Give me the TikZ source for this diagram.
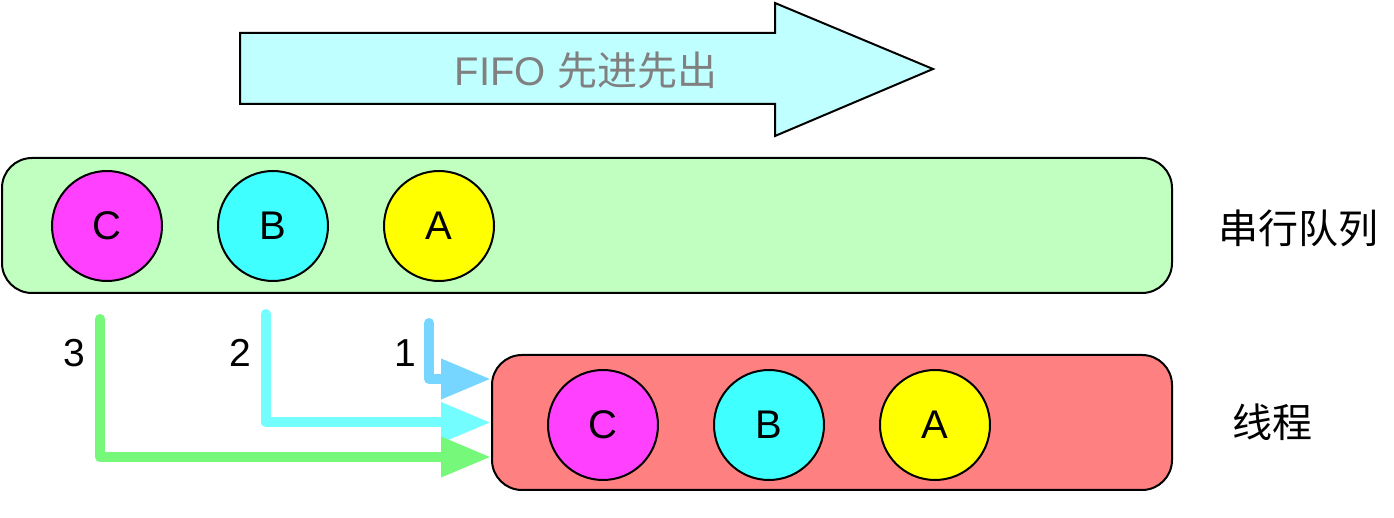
\documentclass[tikz,border=0pt]{standalone}
\usepackage{fontspec}
\setmainfont{Liberation Sans}
\newfontfamily\cjk{Noto Sans CJK SC}
\usetikzlibrary{arrows.meta,positioning}
\definecolor{fifocyan}{HTML}{C0FFFF}
\definecolor{queuegreen}{HTML}{C0FFC0}
\definecolor{threadred}{HTML}{FF8080}
\definecolor{taskC}{HTML}{FF40FF}
\definecolor{taskB}{HTML}{40FFFF}
\definecolor{taskA}{HTML}{FFFF00}
\definecolor{flowone}{HTML}{76D6FF}
\definecolor{flowtwo}{HTML}{73FDFF}
\definecolor{flowthree}{HTML}{76F97B}

\begin{document}
\begin{tikzpicture}[
		x=0.5pt, y=-0.5pt,
		line width=1pt,
		node distance=27pt,
		lane/.style={draw, rounded corners=15pt, minimum height=67.5pt, inner sep=0pt},
		task/.style={draw, circle, minimum size=55pt, inner sep=0pt, font=\fontsize{20}{22}\selectfont},
		tag/.style={font=\fontsize{19.5}{21}\selectfont},
		lanename/.style={font=\cjk\fontsize{20}{22}\selectfont},
		flow/.style={line width=5pt, line cap=round, line join=round, -{Triangle[length=25pt, width=19pt]}},
	]
		\useasboundingbox (0,0) rectangle (1394,518);
		
		% FIFO arrow
		\draw[fill=fifocyan] (240,33) -- (775,33) -- (775,3) -- (933,69) -- (775,136) -- (775,104) -- (240,104) -- cycle;
		\node (fifo) at (586,70) [text=gray, font=\fontsize{20}{22}\selectfont] {FIFO {\cjk 先进先出}};
		
		% serial queue
		\node (queue) [lane, fill=queuegreen, minimum width=585pt] at (587,225.5) {};
		\node (qC) [task, fill=taskC] at (107,226) {C};
		\node (qB) [task, fill=taskB, right=of qC] {B};
		\node (qA) [task, fill=taskA, right=of qB] {A};
		\node (queuename) [lanename] at (1298,228) {串行队列};
		
		% thread
		\node (thread) [lane, fill=threadred, minimum width=340pt] at (832,422.5) {};
		\node (tC) [task, fill=taskC] at (603,425) {C};
		\node (tB) [task, fill=taskB, right=of tC] {B};
		\node (tA) [task, fill=taskA, right=of tB] {A};
		\node (threadname) [lanename] at (1272,422) {线程};
		
		\coordinate (s1) at (429,323);
		\coordinate (s2) at (266,314);
		\coordinate (s3) at (100,319);
		\draw[flow, flowone] (s1) |- ([yshift=21.75pt]thread.west);
		\draw[flow, flowtwo] (s2) |- (thread.west);
		\draw[flow, flowthree] (s3) |- ([yshift=-17.25pt]thread.west);
		\node (n1) [tag] at (405,353) {1};
		\node (n2) [tag] at (240,353) {2};
		\node (n3) [tag] at (74,353) {3};
	\end{tikzpicture}
\end{document}
